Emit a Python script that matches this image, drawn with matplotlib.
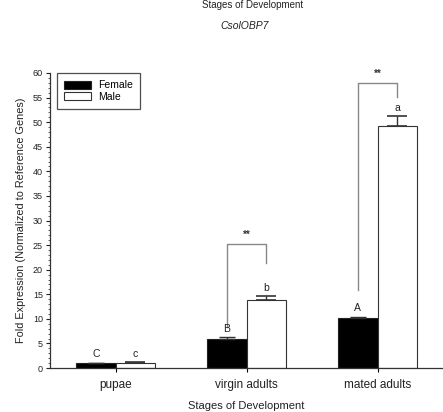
import matplotlib
matplotlib.use("Agg")
import matplotlib.pyplot as plt
import numpy as np
from matplotlib.ticker import MultipleLocator

categories = ["pupae", "virgin adults", "mated adults"]
female = [1.0, 6.0, 10.2]
female_err = [0.05, 0.25, 0.2]
male = [1.1, 13.8, 49.2]
male_err = [0.1, 0.8, 2.0]
female_letters = ["C", "B", "A"]
male_letters = ["c", "b", "a"]
# significance brackets: (category index, left bottom, top, right bottom)
sig_cats = [1, 2]
sig_left = [8.3, 15.9]
sig_top = [25.2, 57.9]
sig_right = [21.3, 55.1]
sig_text = ["**", "**"]

plt.rcParams['font.family'] = ['Liberation Sans', 'DejaVu Sans']

fig = plt.figure(figsize=(4.43, 4.12), dpi=100)
ax = fig.add_axes([50/443, 1-368/412, 393/443, (368-73)/412])

x = np.arange(len(categories))
w = 0.3
ax.bar(x - w/2, female, w, color="black", edgecolor="#222222", linewidth=0.8, label="Female", zorder=2)
ax.bar(x + w/2, male, w, color="white", edgecolor="#333333", linewidth=0.8, label="Male", zorder=2)
ax.errorbar(x - w/2, female, yerr=[np.zeros(3), female_err], fmt="none", ecolor="#333333",
            elinewidth=1.0, capsize=6, capthick=1.0, zorder=3)
ax.errorbar(x + w/2, male, yerr=[np.zeros(3), male_err], fmt="none", ecolor="#333333",
            elinewidth=1.0, capsize=7, capthick=1.2, zorder=3)

for i in range(len(categories)):
    ax.text(x[i] - w/2, female[i] + female_err[i] + 0.7, female_letters[i], ha="center", va="bottom",
            fontsize=7.5, color="#222222")
    ax.text(x[i] + w/2, male[i] + male_err[i] + 0.7, male_letters[i], ha="center", va="bottom",
            fontsize=7.5, color="#222222")

for c, l, t, r, s in zip(sig_cats, sig_left, sig_top, sig_right, sig_text):
    xl = x[c] - w/2
    xr = x[c] + w/2
    ax.plot([xl, xl, xr, xr], [l, t, t, r], color="#888888", linewidth=1.0, zorder=1)
    ax.text(x[c], t + 0.9, s, ha="center", va="bottom", fontsize=7, color="#333333", fontweight="bold")

ax.set_xlim(-0.5, 2.5)
ax.set_ylim(0, 60)
ax.set_xticks(x)
ax.set_xticklabels(categories, fontsize=8.5, color="#222222")
ax.yaxis.set_major_locator(MultipleLocator(5))
ax.yaxis.set_minor_locator(MultipleLocator(1))
ax.tick_params(axis="y", which="major", length=3, width=0.8, labelsize=6.5, pad=2, colors="#222222")
ax.tick_params(axis="y", which="minor", length=1.5, width=0.6, colors="#444444")
ax.tick_params(axis="x", which="major", length=3, width=0.8, pad=5, direction="out")
for side in ["top", "right"]:
    ax.spines[side].set_visible(False)
for side in ["left", "bottom"]:
    ax.spines[side].set_linewidth(0.9)
    ax.spines[side].set_color("#333333")

ax.set_ylabel("Fold Expression (Normalized to Reference Genes)", fontsize=7.8, labelpad=5, color="#222222")
ax.set_xlabel("Stages of Development", fontsize=8, labelpad=7, color="#222222")

leg = ax.legend(loc="upper left", bbox_to_anchor=(0.018, 1.0), fontsize=7.5, frameon=True, fancybox=False,
                edgecolor="#222222", handlelength=2.6, handleheight=0.8, borderpad=0.7, labelspacing=0.15,
                handletextpad=0.6, borderaxespad=0)
leg.get_frame().set_linewidth(0.9)

fig.text(253/443, 1.0, "Stages of Development", ha="center", va="top", fontsize=7, color="#222222")
fig.text(245/443, 1-26/412, "CsolOBP7", ha="center", va="center", fontsize=7.5, style="italic", color="#222222")

fig.savefig("out.png", dpi=100)
